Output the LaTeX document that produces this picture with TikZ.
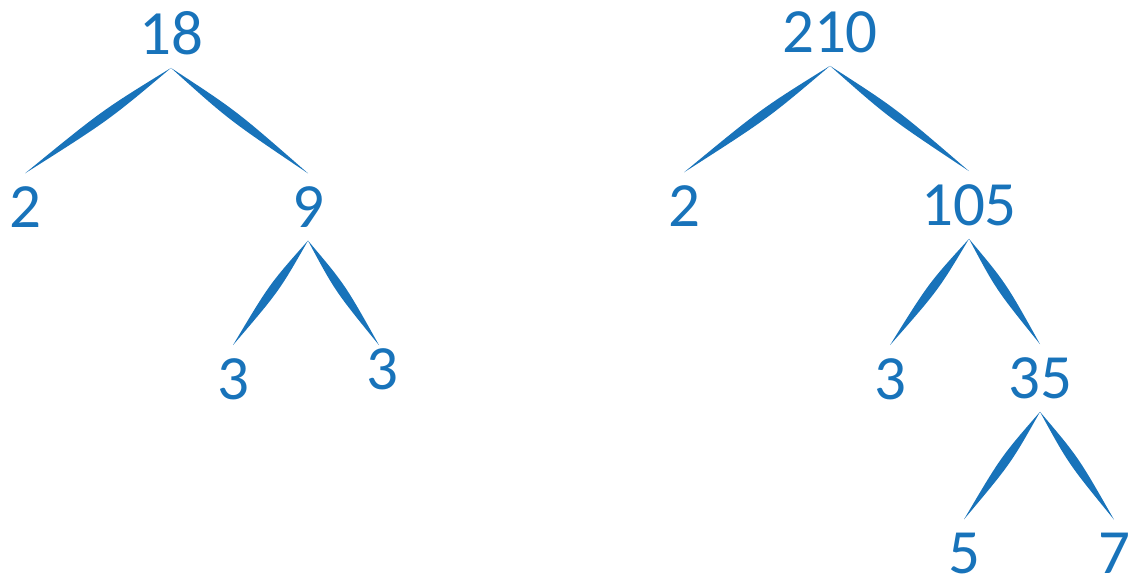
\documentclass[tikz,border=0pt]{standalone}
\usepackage{fontspec}
\setmainfont{Carlito}
\usepackage{xcolor}
\definecolor{treeblue}{HTML}{1873BA}
\usepackage{tikz}
\usetikzlibrary{calc}
\tikzset{
  treenum/.style={text=treeblue,font=\fontsize{63}{63}\selectfont,inner sep=13pt},
}
% tapered branch from parent to child
\newcommand\treebranch[2]{\fill[treeblue] (#1) .. controls ($(#1)!0.45!(#2)!6pt!90:(#2)$) .. (#2) .. controls ($(#1)!0.45!(#2)!-6pt!90:(#2)$) .. (#1);}

\begin{document}
\begin{tikzpicture}[x=1pt,y=-1pt]
\useasboundingbox (0,0) rectangle (1132,579);
  % 18 = 2 x 3 x 3
\node[treenum] (a) at (171,33) {18};
\node[treenum] (a2) at (25,207) {2};
\node[treenum] (a9) at (308,207) {9};
\node[treenum] (a3l) at (233,379) {3};
\node[treenum] (a3r) at (382,369) {3};
\treebranch{a.south}{a2.north}
\treebranch{a.south}{a9.north}
\treebranch{a9.south}{a3l.north}
\treebranch{a9.south}{$(a3r.north)+(-3,10)$}
  % 210 = 2 x 3 x 5 x 7
\node[treenum] (b) at (830,32) {210};
\node[treenum] (b2) at (684,206) {2};
\node[treenum] (b105) at (969,205) {105};
\node[treenum] (b3) at (890,379) {3};
\node[treenum] (b35) at (1040,378) {35};
\node[treenum,inner ysep=2pt] (b5) at (964,553) {5};
\node[treenum,inner ysep=2pt] (b7) at (1114,553) {7};
\treebranch{b.south}{b2.north}
\treebranch{b.south}{b105.north}
\treebranch{b105.south}{b3.north}
\treebranch{b105.south}{b35.north}
\treebranch{b35.south}{$(b5.north)+(0,-11)$}
\treebranch{b35.south}{$(b7.north)+(0,-11)$}
\end{tikzpicture}
\end{document}
